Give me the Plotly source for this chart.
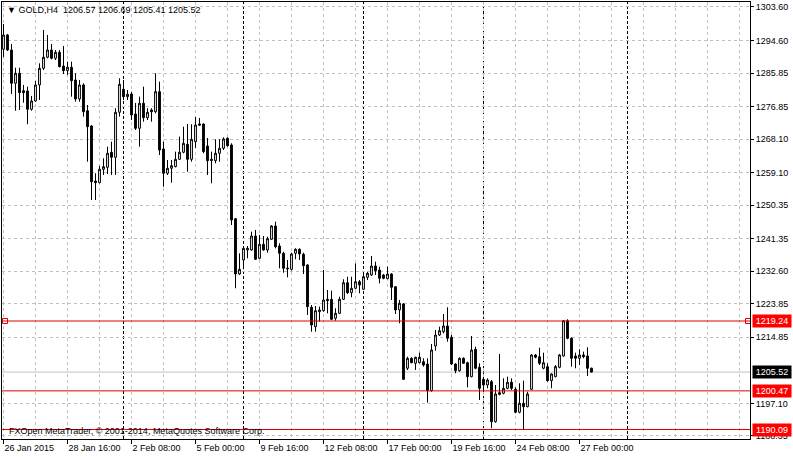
import plotly.graph_objects as go

# ---------------- data (GOLD, H4, 26 Jan 2015 .. 27 Feb 2015) ----------------
opens = [
    1292.24, 1296.08, 1292.05, 1283.10, 1285.79, 1281.11, 1281.03, 1276.12, 1278.35, 1282.65,
    1287.13, 1290.09, 1292.05, 1289.82, 1291.43, 1287.75, 1286.49, 1287.40, 1283.99, 1278.88,
    1282.65, 1275.74, 1271.63, 1256.85, 1256.40, 1260.00, 1260.53, 1264.57, 1263.22, 1275.31,
    1281.49, 1279.50, 1280.23, 1274.85, 1271.01, 1277.73, 1273.86, 1275.93, 1275.47, 1280.85,
    1265.45, 1258.92, 1260.27, 1260.70, 1262.68, 1264.57, 1266.71, 1262.68, 1267.41, 1271.82,
    1272.17, 1266.26, 1262.31, 1262.31, 1264.30, 1265.64, 1268.33, 1266.53, 1246.73, 1231.87,
    1235.63, 1238.32, 1238.32, 1242.08, 1236.09, 1239.85, 1238.32, 1241.19, 1244.77, 1239.39,
    1237.43, 1233.48, 1233.13, 1237.43, 1238.51, 1237.16, 1234.29, 1222.92, 1217.71, 1221.74,
    1222.01, 1225.07, 1225.07, 1219.97, 1221.31, 1225.07, 1229.53, 1226.85, 1228.03, 1229.80,
    1227.76, 1230.98, 1231.60, 1234.02, 1232.94, 1231.60, 1230.61, 1231.87, 1228.46, 1222.20,
    1223.81, 1206.54, 1209.22, 1207.88, 1208.04, 1208.31, 1207.69, 1200.52, 1212.53, 1215.48,
    1216.37, 1217.90, 1214.86, 1207.69, 1205.89, 1209.22, 1208.04, 1204.28, 1211.64, 1206.81,
    1203.58, 1202.05, 1202.94, 1192.19, 1199.98, 1199.82, 1201.16, 1202.78, 1200.90, 1194.72,
    1197.13, 1196.22, 1200.90, 1210.11, 1209.65, 1206.54, 1206.97, 1203.21, 1204.28, 1206.81,
    1209.84, 1219.32, 1214.60, 1209.84, 1209.22, 1210.11, 1209.84, 1206.57]

highs = [
    1299.03, 1296.35, 1293.66, 1287.29, 1287.29, 1282.65, 1282.19, 1279.69, 1283.72, 1288.47,
    1297.42, 1296.08, 1293.66, 1292.05, 1292.05, 1293.12, 1288.90, 1288.90, 1285.79, 1283.99,
    1283.10, 1277.27, 1271.90, 1258.92, 1260.88, 1262.95, 1266.07, 1267.41, 1276.39, 1284.45,
    1283.99, 1281.30, 1280.85, 1277.81, 1279.50, 1282.19, 1276.39, 1276.39, 1285.79, 1283.53,
    1267.41, 1262.50, 1262.50, 1264.73, 1268.76, 1271.44, 1272.17, 1272.09, 1274.05, 1273.78,
    1272.30, 1268.41, 1264.73, 1268.06, 1268.06, 1268.59, 1268.59, 1266.98, 1246.90, 1237.43,
    1239.20, 1239.39, 1243.23, 1243.69, 1242.35, 1242.08, 1241.89, 1245.03, 1245.92, 1240.12,
    1237.86, 1235.63, 1237.59, 1238.77, 1238.77, 1237.59, 1234.50, 1223.54, 1223.27, 1223.09,
    1232.94, 1227.57, 1227.38, 1222.66, 1225.77, 1230.45, 1231.14, 1231.14, 1234.74, 1230.26,
    1232.06, 1232.49, 1236.71, 1235.17, 1233.83, 1231.87, 1233.83, 1232.06, 1228.65, 1224.89,
    1224.08, 1209.65, 1209.49, 1209.65, 1210.73, 1209.22, 1209.22, 1213.06, 1216.83, 1217.71,
    1221.12, 1222.92, 1215.48, 1207.88, 1209.49, 1209.49, 1208.31, 1215.21, 1212.34, 1207.88,
    1203.85, 1203.85, 1203.39, 1202.05, 1210.38, 1203.85, 1204.28, 1203.85, 1201.43, 1202.51,
    1203.21, 1200.25, 1210.38, 1210.38, 1212.07, 1210.73, 1207.88, 1205.19, 1207.42, 1210.38,
    1219.51, 1219.70, 1214.86, 1210.73, 1211.64, 1211.00, 1212.18, 1206.69]

lows = [
    1290.17, 1291.78, 1280.23, 1275.74, 1275.93, 1277.89, 1272.09, 1275.74, 1278.16, 1278.62,
    1286.67, 1289.82, 1289.55, 1289.36, 1287.40, 1285.60, 1285.33, 1279.50, 1278.16, 1278.16,
    1274.13, 1262.04, 1251.75, 1251.75, 1256.24, 1258.47, 1258.74, 1258.47, 1258.47, 1274.13,
    1278.62, 1278.62, 1273.24, 1270.56, 1266.07, 1272.79, 1273.24, 1272.79, 1275.04, 1263.84,
    1255.32, 1258.47, 1256.40, 1260.53, 1262.50, 1264.30, 1259.35, 1262.04, 1265.72, 1271.63,
    1264.30, 1258.47, 1256.24, 1261.61, 1262.04, 1265.18, 1266.07, 1245.03, 1228.03, 1231.60,
    1233.13, 1236.09, 1238.13, 1235.63, 1235.82, 1238.13, 1237.59, 1241.00, 1238.77, 1233.40,
    1232.22, 1230.98, 1232.76, 1235.82, 1235.63, 1231.87, 1220.86, 1216.37, 1216.37, 1219.06,
    1221.74, 1221.31, 1219.51, 1219.32, 1221.12, 1224.89, 1226.50, 1225.61, 1227.76, 1226.69,
    1227.57, 1230.26, 1231.33, 1231.60, 1229.37, 1230.45, 1230.45, 1224.89, 1221.12, 1218.63,
    1203.39, 1206.08, 1207.88, 1206.08, 1207.88, 1206.97, 1197.30, 1200.25, 1211.26, 1215.21,
    1215.94, 1213.68, 1207.42, 1205.19, 1205.62, 1207.69, 1201.43, 1204.12, 1206.27, 1198.02,
    1200.25, 1201.16, 1190.42, 1191.92, 1199.28, 1199.55, 1200.90, 1200.71, 1194.45, 1194.45,
    1190.15, 1196.06, 1200.71, 1209.22, 1207.42, 1206.27, 1202.94, 1201.16, 1204.12, 1206.54,
    1209.65, 1214.33, 1206.97, 1206.54, 1207.42, 1209.22, 1204.47, 1205.41]

closes = [
    1296.08, 1292.05, 1283.10, 1285.79, 1280.58, 1280.58, 1276.12, 1278.35, 1282.65, 1287.13,
    1290.09, 1292.05, 1289.82, 1291.43, 1287.56, 1286.49, 1287.40, 1283.80, 1278.88, 1282.65,
    1275.47, 1271.44, 1256.67, 1256.40, 1260.00, 1260.70, 1264.30, 1263.22, 1275.31, 1282.83,
    1279.50, 1280.15, 1274.59, 1271.01, 1277.73, 1273.86, 1275.31, 1275.47, 1280.85, 1265.18,
    1258.92, 1260.27, 1260.96, 1262.68, 1264.57, 1266.98, 1262.68, 1268.06, 1271.90, 1272.17,
    1264.73, 1262.31, 1262.68, 1264.30, 1265.64, 1268.14, 1266.34, 1246.38, 1231.87, 1233.13,
    1238.77, 1238.77, 1242.08, 1235.82, 1239.85, 1238.32, 1241.35, 1244.77, 1239.20, 1237.43,
    1233.40, 1233.29, 1237.24, 1238.51, 1237.24, 1234.10, 1223.09, 1218.17, 1222.01, 1222.20,
    1224.89, 1224.70, 1219.70, 1221.31, 1225.07, 1229.53, 1226.85, 1228.03, 1229.80, 1228.92,
    1231.14, 1232.06, 1234.02, 1232.76, 1230.71, 1230.71, 1231.87, 1228.30, 1222.20, 1224.00,
    1203.58, 1209.22, 1208.04, 1209.49, 1209.49, 1207.42, 1200.52, 1211.45, 1215.48, 1216.64,
    1217.90, 1214.60, 1207.69, 1205.89, 1209.22, 1207.88, 1204.28, 1211.45, 1206.54, 1201.16,
    1202.05, 1203.39, 1192.19, 1199.63, 1199.55, 1201.16, 1202.78, 1201.16, 1194.72, 1197.13,
    1196.22, 1199.63, 1210.11, 1209.49, 1207.88, 1208.04, 1203.21, 1205.01, 1206.97, 1210.11,
    1219.32, 1214.60, 1209.22, 1209.22, 1210.11, 1209.65, 1206.54, 1205.52]

assert len(opens) == len(highs) == len(lows) == len(closes) == 148

bars = list(range(len(opens)))  # bar index (weekends skipped, 6 bars/day)

time_tick_bars = [0, 16, 32, 48, 64, 80, 96, 112, 128, 144]
time_tick_labels = ["26 Jan 2015", "28 Jan 16:00", "2 Feb 08:00", "5 Feb 00:00",
                    "9 Feb 16:00", "12 Feb 08:00", "17 Feb 00:00", "19 Feb 16:00",
                    "24 Feb 08:00", "27 Feb 00:00"]

price_ticks = [1303.60, 1294.60, 1285.85, 1276.85, 1268.10, 1259.10, 1250.35,
               1241.35, 1232.60, 1223.85, 1214.85, 1197.10, 1188.35]

week_separators = [30, 60, 90, 120, 156]       # Monday 00:00 separators
level_lines = [1219.24, 1200.47, 1190.09]      # horizontal line objects
bid_price = closes[-1]

title_text = "▼ GOLD,H4  1206.57 1206.69 1205.41 1205.52"
footer_text = "FXOpen MetaTrader, © 2001-2014, MetaQuotes Software Corp."

# ---------------- figure ----------------
FONT = "Liberation Sans, Arial, sans-serif"
GRID = "#C0C0C0"
x_range = [-0.375, 186.625]
y_range = [1187.54, 1304.94]

fig = go.Figure()

fig.add_trace(go.Candlestick(
    x=bars, open=opens, high=highs, low=lows, close=closes,
    increasing=dict(fillcolor="white", line=dict(color="black", width=1)),
    decreasing=dict(fillcolor="black", line=dict(color="black", width=1)),
    whiskerwidth=0, showlegend=False, hoverinfo="skip",
))

shapes = []
for s in week_separators:
    shapes.append(dict(type="line", xref="x", yref="paper", x0=s, x1=s, y0=0, y1=1,
                       line=dict(color="black", width=1, dash="3px,2px"), layer="below"))
shapes.append(dict(type="line", xref="paper", yref="y", x0=0, x1=1, y0=bid_price, y1=bid_price,
                   line=dict(color=GRID, width=1), layer="below"))
for lv in level_lines:
    shapes.append(dict(type="line", xref="paper", yref="y", x0=0, x1=1, y0=lv, y1=lv,
                       line=dict(color="#E00000", width=1), layer="above"))

# selection handles of the first horizontal line
fig.add_trace(go.Scatter(
    x=[x_range[0] + 0.75, x_range[1] - 0.5], y=[level_lines[0]] * 2, mode="markers",
    marker=dict(symbol="square", size=5, color="white", line=dict(color="#E00000", width=1)),
    showlegend=False, hoverinfo="skip", cliponaxis=False,
))

annotations = []
for lv in level_lines:
    annotations.append(dict(xref="paper", yref="y", x=1, y=lv, xanchor="left", yanchor="middle",
                            xshift=2, text=f"{lv:.2f}", showarrow=False, bgcolor="#FF0000",
                            font=dict(family=FONT, size=9, color="white"), borderpad=1,
                            width=36, align="center"))
annotations.append(dict(xref="paper", yref="y", x=1, y=bid_price, xanchor="left", yanchor="middle",
                        xshift=2, text=f"{bid_price:.2f}", showarrow=False, bgcolor="black",
                        font=dict(family=FONT, size=9, color="white"), borderpad=1,
                        width=36, align="center"))
annotations.append(dict(xref="paper", yref="paper", x=0, y=1, xanchor="left", yanchor="top",
                        xshift=3, yshift=-1, text=title_text, showarrow=False,
                        font=dict(family=FONT, size=9, color="black")))
annotations.append(dict(xref="paper", yref="paper", x=0, y=0, xanchor="left", yanchor="bottom",
                        xshift=5, yshift=1, text=footer_text, showarrow=False,
                        font=dict(family=FONT, size=9, color="black")))

fig.update_layout(
    width=793, height=457, autosize=False,
    margin=dict(l=2, r=43, t=2, b=18, pad=0),
    plot_bgcolor="white", paper_bgcolor="white",
    font=dict(family=FONT, size=9, color="black"),
    boxgap=0.35,
    shapes=shapes, annotations=annotations,
    xaxis=dict(
        range=x_range, tickmode="array", tickvals=time_tick_bars, ticktext=time_tick_labels,
        ticks="outside", ticklen=4, tickcolor="black", tickwidth=1,
        ticklabelposition="outside right",
        showline=True, linecolor="black", linewidth=1, mirror=True,
        showgrid=True, gridcolor=GRID, griddash="3px,3px", gridwidth=1,
        minor=dict(tickmode="linear", tick0=0, dtick=8, showgrid=True, gridcolor=GRID,
                   griddash="3px,3px", gridwidth=1, ticks=""),
        zeroline=False, rangeslider=dict(visible=False), fixedrange=True,
        tickfont=dict(family=FONT, size=9, color="black"),
    ),
    yaxis=dict(
        range=y_range, side="right", tickmode="array", tickvals=price_ticks,
        ticktext=[f"{v:.2f}" for v in price_ticks],
        ticks="outside", ticklen=3, tickcolor="black", tickwidth=1,
        showline=True, linecolor="black", linewidth=1, mirror=True,
        showgrid=True, gridcolor=GRID, griddash="3px,3px", gridwidth=1,
        zeroline=False, fixedrange=True,
        tickfont=dict(family=FONT, size=9, color="black"),
    ),
)

fig.write_html(
    "out.html",
    config={"displayModeBar": False, "staticPlot": True},
    post_script="document.body.style.margin='0';document.body.style.overflow='hidden';",
)
